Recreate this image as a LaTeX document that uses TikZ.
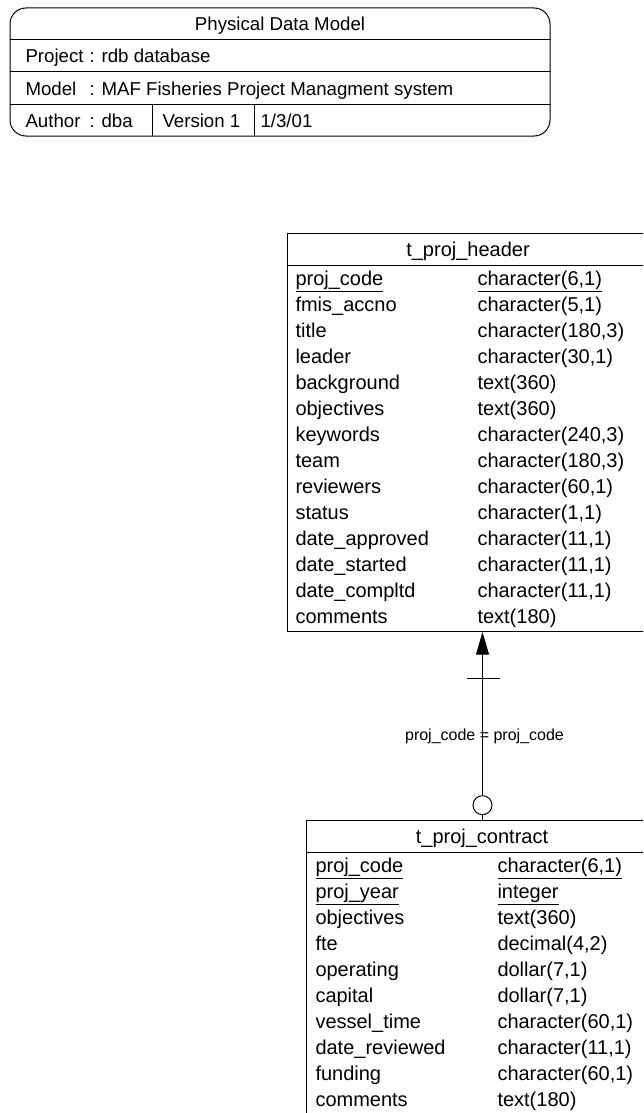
\documentclass[tikz,border=0pt]{standalone}
\usepackage{fontspec}
\setmainfont{Liberation Sans}
\usetikzlibrary{arrows.meta}

\begin{document}
\begin{tikzpicture}[x=0.75pt,y=-0.75pt,line width=0.75pt,
    font=\fontsize{15}{18}\selectfont]

      \clip (0,0) rectangle (643,1113);

      % Title block
      \draw[rounded corners=12] (10,8) rectangle (550,136);
      \draw (10,40) -- (550,40) (10,72) -- (550,72) (10,104) -- (550,104);
      \draw (152,104) -- (152,136) (254,104) -- (254,136);

      \begin{scope}[every node/.style={anchor=base west,inner sep=0pt,
          font=\fontsize{14}{17}\selectfont}]
        \node[anchor=base] (ttl) at (280,31) {Physical Data Model};
        \node (prj) at (25,63) {Project};
        \node (prjv) at (89,63) {: rdb database};
        \node (mdl) at (25,95) {Model};
        \node (mdlv) at (89,95) {: MAF Fisheries Project Managment system};
        \node (aut) at (25,127) {Author};
        \node (autv) at (89,127) {: dba};
        \node (ver) at (162,127) {Version 1};
        \node (dat) at (260,127) {1/3/01};
      \end{scope}

      % Tables
      \begin{scope}[every node/.style={draw,anchor=north west,inner sep=0pt}]
        \node[minimum width=272.25pt,minimum height=298.5pt] (hdr) at (287,233) {};
        \node[minimum width=264pt,minimum height=240pt] (ctr) at (306,820) {};
      \end{scope}
      \draw ([yshift=-24pt]hdr.north west) -- ([yshift=-24pt]hdr.north east);
      \draw ([yshift=-24pt]ctr.north west) -- ([yshift=-24pt]ctr.north east);

      % t_proj_header
      \begin{scope}[every node/.style={anchor=base west,inner sep=0pt}]
        \node[anchor=base] (h00) at (468,256) {t\_proj\_header};
        \node (h01) at (295,285) {\underline{proj\_code}};
        \node (h02) at (295,311) {fmis\_accno};
        \node (h03) at (295,337) {title};
        \node (h04) at (295,363) {leader};
        \node (h05) at (295,389) {background};
        \node (h06) at (295,415) {objectives};
        \node (h07) at (295,441) {keywords};
        \node (h08) at (295,467) {team};
        \node (h09) at (295,493) {reviewers};
        \node (h10) at (295,519) {status};
        \node (h11) at (295,545) {date\_approved};
        \node (h12) at (295,571) {date\_started};
        \node (h13) at (295,597) {date\_compltd};
        \node (h14) at (295,623) {comments};

        \node (ht01) at (477,285) {\underline{character(6,1)}};
        \node (ht02) at (477,311) {character(5,1)};
        \node (ht03) at (477,337) {character(180,3)};
        \node (ht04) at (477,363) {character(30,1)};
        \node (ht05) at (477,389) {text(360)};
        \node (ht06) at (477,415) {text(360)};
        \node (ht07) at (477,441) {character(240,3)};
        \node (ht08) at (477,467) {character(180,3)};
        \node (ht09) at (477,493) {character(60,1)};
        \node (ht10) at (477,519) {character(1,1)};
        \node (ht11) at (477,545) {character(11,1)};
        \node (ht12) at (477,571) {character(11,1)};
        \node (ht13) at (477,597) {character(11,1)};
        \node (ht14) at (477,623) {text(180)};
      \end{scope}

      % t_proj_contract
      \begin{scope}[every node/.style={anchor=base west,inner sep=0pt}]
        \node[anchor=base] (c00) at (482,843) {t\_proj\_contract};
        \node (c01) at (315,872) {\underline{proj\_code}};
        \node (c02) at (315,898) {\underline{proj\_year}};
        \node (c03) at (315,924) {objectives};
        \node (c04) at (315,950) {fte};
        \node (c05) at (315,976) {operating};
        \node (c06) at (315,1002) {capital};
        \node (c07) at (315,1028) {vessel\_time};
        \node (c08) at (315,1054) {date\_reviewed};
        \node (c09) at (315,1080) {funding};
        \node (c10) at (315,1106) {comments};

        \node (ct01) at (497,872) {\underline{character(6,1)}};
        \node (ct02) at (497,898) {\underline{integer}};
        \node (ct03) at (497,924) {text(360)};
        \node (ct04) at (497,950) {decimal(4,2)};
        \node (ct05) at (497,976) {dollar(7,1)};
        \node (ct06) at (497,1002) {dollar(7,1)};
        \node (ct07) at (497,1028) {character(60,1)};
        \node (ct08) at (497,1054) {character(11,1)};
        \node (ct09) at (497,1080) {character(60,1)};
        \node (ct10) at (497,1106) {text(180)};
      \end{scope}

      % Relationship
      \draw[-{Triangle[width=9.75pt,length=17pt]}] (ctr.north) -- (ctr.north |- hdr.south)
        coordinate[pos=0.751] (bar)
        coordinate[pos=0.079] (opt)
        node[pos=0.444,inner sep=0pt,xshift=1.5pt,font=\fontsize{12}{14}\selectfont] (rel) {proj\_code = proj\_code};
      \draw (bar) +(-16,0) -- +(17,0);
      \node[circle,draw,fill=white,inner sep=0pt,minimum size=14.25pt] (optc) at (opt) {};

    \end{tikzpicture}
\end{document}
